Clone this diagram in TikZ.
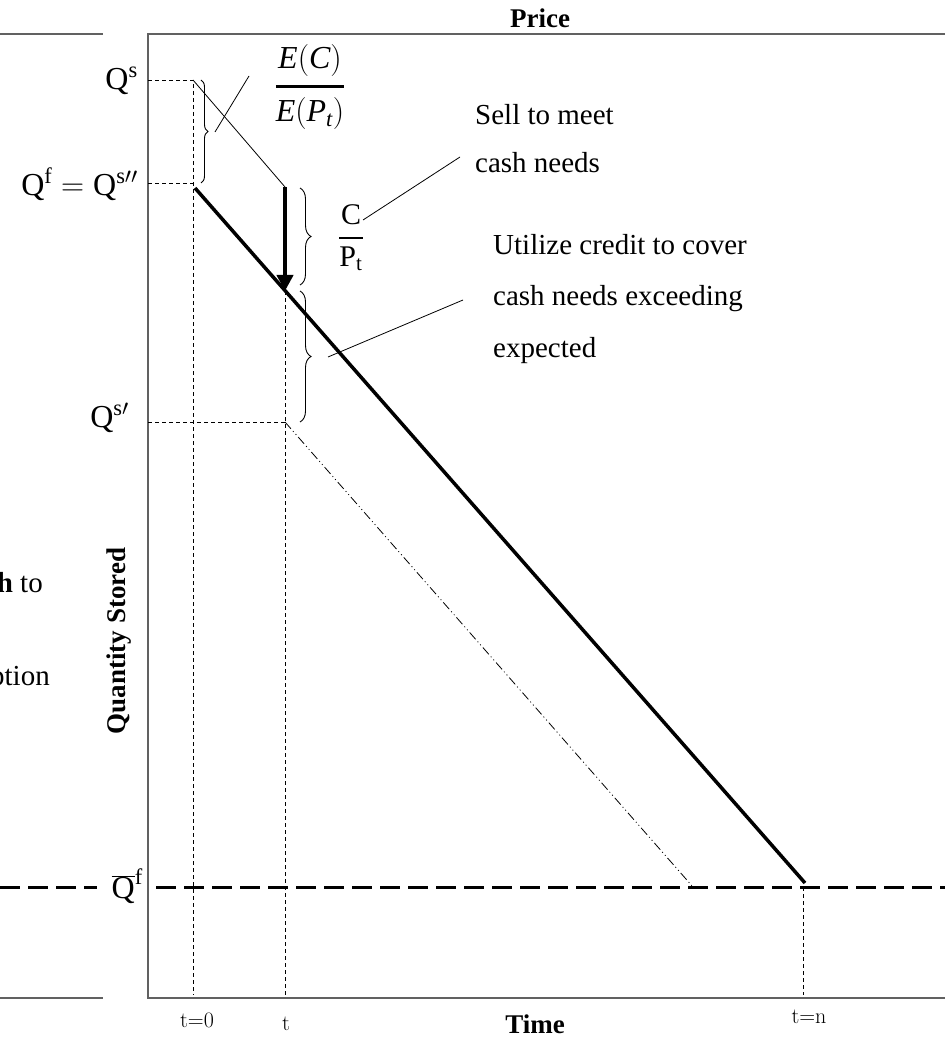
\RequirePackage{fix-cm}
\documentclass[tikz,border=0pt]{standalone}
\usepackage{fontspec}
\setmainfont{Liberation Serif}
\newfontfamily\lmfont{Latin Modern Roman}
\usetikzlibrary{arrows.meta,decorations.pathreplacing}

\begin{document}
\begin{tikzpicture}[x=1pt,y=-1pt,
    frameline/.style={black!62,line width=2pt},
    guide/.style={dash pattern=on 4pt off 3pt,line width=0.8pt},
    floor/.style={dash pattern=on 20pt off 8pt,line width=3pt},
    stock/.style={line width=3.5pt},
    leader/.style={line width=0.8pt},
    bracket/.style={decorate,decoration={brace,amplitude=#1},line width=0.9pt},
    note/.style={font=\fontsize{29}{48}\selectfont,inner sep=0pt,align=left},
    axislabel/.style={font=\fontsize{27}{30}\selectfont\bfseries,inner sep=0pt},
    qlabel/.style={font=\fontsize{32}{36}\selectfont,inner sep=0pt},
    tlabel/.style={font=\lmfont\fontsize{22}{26}\selectfont,inner sep=0pt}]
  \useasboundingbox (0,0) rectangle (945,1040);

  % Frame (and the cut edge of the panel on the left)
  \draw[frameline] (0,34) -- (103,34);
  \draw[frameline] (0,998) -- (103,998);
  \draw[frameline] (945,34) -- (148,34) -- (148,998) -- (945,998);
  \node[note,anchor=mid east] (cut1) at (43,590) {\textbf{gh} to};
  \node[note,anchor=mid east] (cut2) at (50,683) {ption};

  % Key points
  \coordinate (yax) at (148,0);
  \coordinate (xax) at (0,995);
  \coordinate (s0) at (193,80);
  \coordinate (f0) at (193,183);
  \coordinate (st) at (285,187);
  \coordinate (ft) at (285,291);
  \coordinate (pt) at (285,422);
  \coordinate (fn) at (803,887);
  \coordinate (pn) at (693,887);

  % Axis titles
  \node[axislabel,anchor=base] (price) at (540,28) {Price};
  \node[axislabel,anchor=base] (time) at (535,1033) {Time};
  \node[axislabel,rotate=90] (qty) at (119,641) {Quantity Stored};

  % Levels on the quantity axis
  \node[qlabel,anchor=east] (qs) at (138,81) {$\mathrm{Q}^{\mathrm{s}}$};
  \node[qlabel,anchor=east] (qf) at (138,184) {$\mathrm{Q}^{\mathrm{f}}=\mathrm{Q}^{\mathrm{s}\prime\prime}$};
  \node[qlabel,anchor=east] (qsp) at (129,418) {$\mathrm{Q}^{\mathrm{s}\prime}$};
  \node[qlabel,anchor=east] (qbar) at (143,886) {$\overline{\mathrm{Q}}^{\mathrm{f}}$};

  % Points in time
  \node[tlabel,anchor=base] (t0) at (197,1027) {t=0};
  \node[tlabel,anchor=base] (t) at (286,1030) {t};
  \node[tlabel,anchor=base] (tn) at (809,1023) {t=n};

  % Guide lines
  \draw[guide] (s0 -| yax) -- (s0) -- (s0 |- xax);
  \draw[guide] (f0 -| yax) -- (f0);
  \draw[guide] (pt -| yax) -- (pt);
  \draw[guide] (ft) -- (ft |- xax);
  \draw[guide] (fn) -- (fn |- xax);

  % Minimum stock
  \draw[floor] (0,887) -- (97,887);
  \draw[floor] (156,887) -- (945,887);

  % Stock paths
  \draw[stock] (195,188) -- (805,883);
  \draw[dash pattern=on 9pt off 3pt on 1pt off 3pt on 1pt off 3pt,line width=0.8pt] (pt) -- (pn);
  \draw[leader] (s0) -- (st);
  \draw[line width=4pt,-{Triangle[width=16pt,length=16pt]}] (st) -- (ft);

  % Braces and their notes
  \draw[bracket=7pt] (201,80) -- (201,183);
  \draw[bracket=11pt] (300,188) -- (300,285);
  \draw[bracket=11pt] (300,291) -- (300,422);

  \node[font=\fontsize{32}{38}\selectfont,inner sep=0pt] (ep) at (310,87) {$\displaystyle{\mathit{E}(\mathit{C})\above 3pt \mathit{E}(\mathit{P}_{\mathit{t}})}$};
  \node[font=\fontsize{30}{36}\selectfont,inner sep=0pt] (cp) at (351,238) {$\displaystyle{\mathrm{C}\above 2.5pt \mathrm{P_t}}$};
  \node[note,anchor=north west] (sell) at (475,104) {Sell to meet\\cash needs};
  \node[note,anchor=north west,font=\fontsize{29}{51.5}\selectfont] (credit) at (493,234) {Utilize credit to cover\\cash needs exceeding\\expected};

  \coordinate (l1a) at (215,132);
  \coordinate (l1b) at (249,76);
  \coordinate (l2a) at (363,220);
  \coordinate (l2b) at (460,157);
  \coordinate (l3a) at (328,357);
  \coordinate (l3b) at (463,300);
  \draw[leader] (l1a) -- (l1b);
  \draw[leader] (l2a) -- (l2b);
  \draw[leader] (l3a) -- (l3b);
\end{tikzpicture}
\end{document}
